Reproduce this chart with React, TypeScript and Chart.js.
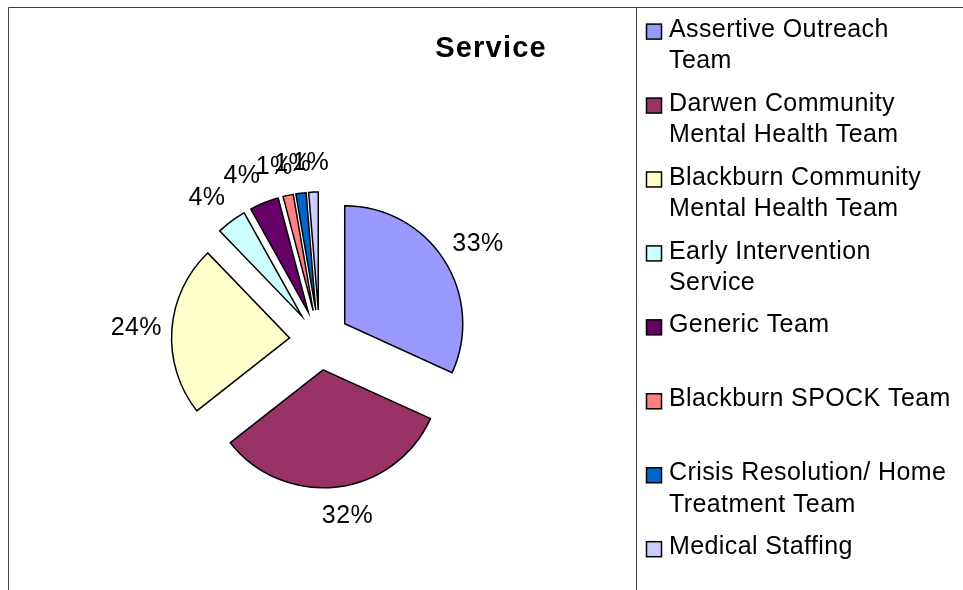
import React, { useEffect, useRef } from 'react';
import { Chart, registerables } from 'chart.js';

Chart.register(...registerables);

const chartTitle = 'Service';
const categories = [
  'Assertive Outreach\nTeam',
  'Darwen Community\nMental Health Team',
  'Blackburn Community\nMental Health Team',
  'Early Intervention\nService',
  'Generic Team',
  'Blackburn SPOCK Team',
  'Crisis Resolution/ Home\nTreatment Team',
  'Medical Staffing',
];
const shares = [31.8, 32.6, 23.4, 4.1, 4.0, 1.4, 1.4, 1.3];
const percentLabels = ['33%', '32%', '24%', '4%', '4%', '1%', '1%', '1%'];
const sliceColors = ['#9999FF', '#993366', '#FFFFCC', '#CCFFFF', '#660066', '#FF8080', '#0066CC', '#CCCCFF'];

const EXPLODE = 30;
const LABEL_GAP = 10;
const FONT_FAMILY = '"Liberation Sans", Arial, Helvetica, sans-serif';

const clamp = (v: number, lo: number, hi: number) => Math.max(lo, Math.min(hi, v));

const excelPiePlugin = {
  id: 'excelPie',
  beforeDraw(chart: any) {
    const ctx = chart.ctx;
    ctx.save();
    ctx.fillStyle = '#ffffff';
    ctx.fillRect(0, 0, chart.width, chart.height);
    ctx.restore();
  },
  beforeDatasetDraw(chart: any, args: any) {
    const ctx = chart.ctx;
    args.meta.data.forEach((arc: any) => {
      const mid = (arc.startAngle + arc.endAngle) / 2;
      ctx.save();
      ctx.translate(Math.cos(mid) * EXPLODE, Math.sin(mid) * EXPLODE);
      arc.draw(ctx);
      ctx.restore();
    });
    return false;
  },
  afterDraw(chart: any) {
    const ctx = chart.ctx;
    ctx.save();
    // frame lines
    ctx.strokeStyle = '#404040';
    ctx.lineWidth = 1;
    ctx.beginPath();
    ctx.moveTo(8.5, chart.height);
    ctx.lineTo(8.5, 7.5);
    ctx.lineTo(chart.width, 7.5);
    ctx.moveTo(636.5, 7.5);
    ctx.lineTo(636.5, chart.height);
    ctx.stroke();

    // title
    ctx.fillStyle = '#000';
    ctx.font = 'bold 29px ' + FONT_FAMILY;
    (ctx as any).letterSpacing = '1.2px';
    ctx.textAlign = 'center';
    ctx.textBaseline = 'alphabetic';
    ctx.fillText(chartTitle, 491, 57.3);

    // percentage labels
    const meta = chart.getDatasetMeta(0);
    ctx.font = '25px ' + FONT_FAMILY;
    (ctx as any).letterSpacing = '0.4px';
    ctx.textAlign = 'center';
    ctx.textBaseline = 'middle';
    meta.data.forEach((arc: any, i: number) => {
      const mid = (arc.startAngle + arc.endAngle) / 2;
      const dx = Math.cos(mid);
      const dy = Math.sin(mid);
      const r = EXPLODE + arc.outerRadius + LABEL_GAP;
      const w = ctx.measureText(percentLabels[i]).width;
      const px = arc.x + dx * r + clamp(dx * 3, -1, 1) * (w / 2);
      const py = arc.y + dy * r + dy * 19;
      ctx.fillText(percentLabels[i], px, py);
    });

    // legend
    ctx.textAlign = 'left';
    ctx.textBaseline = 'alphabetic';
    const firstBase = 36.7;
    const itemStep = 73.94;
    const lineStep = 31.5;
    categories.forEach((cat, i) => {
      const base = firstBase + i * itemStep;
      ctx.fillStyle = sliceColors[i];
      ctx.fillRect(646.5, base - 12.6, 15, 15);
      ctx.strokeStyle = '#000';
      ctx.lineWidth = 1.5;
      ctx.strokeRect(646.5, base - 12.6, 15, 15);
      ctx.fillStyle = '#000';
      cat.split('\n').forEach((line, j) => {
        ctx.fillText(line, 669, base + j * lineStep);
      });
    });
    ctx.restore();
  },
};

export default function App() {
  const canvasRef = useRef<HTMLCanvasElement | null>(null);

  useEffect(() => {
    const canvas = canvasRef.current;
    if (!canvas) return;
    const chart = new Chart(canvas, {
      type: 'pie',
      data: {
        labels: categories,
        datasets: [
          {
            data: shares,
            backgroundColor: sliceColors,
            borderColor: '#000000',
            borderWidth: 1.5,
            borderJoinStyle: 'miter',
            radius: 118,
          } as any,
        ],
      },
      options: {
        responsive: false,
        maintainAspectRatio: false,
        animation: false,
        devicePixelRatio: 1,
        layout: { padding: { left: 169.5, right: 493.5, top: 190, bottom: 100 } },
        plugins: {
          legend: { display: false },
          title: { display: false },
          tooltip: { enabled: false },
        },
        events: [],
      } as any,
      plugins: [excelPiePlugin],
    });
    return () => chart.destroy();
  }, []);

  return (
    <div style={{ position: 'fixed', left: 0, top: 0, width: 963, height: 590, background: '#fff' }}>
      <canvas ref={canvasRef} width={963} height={590} style={{ display: 'block' }} />
    </div>
  );
}
